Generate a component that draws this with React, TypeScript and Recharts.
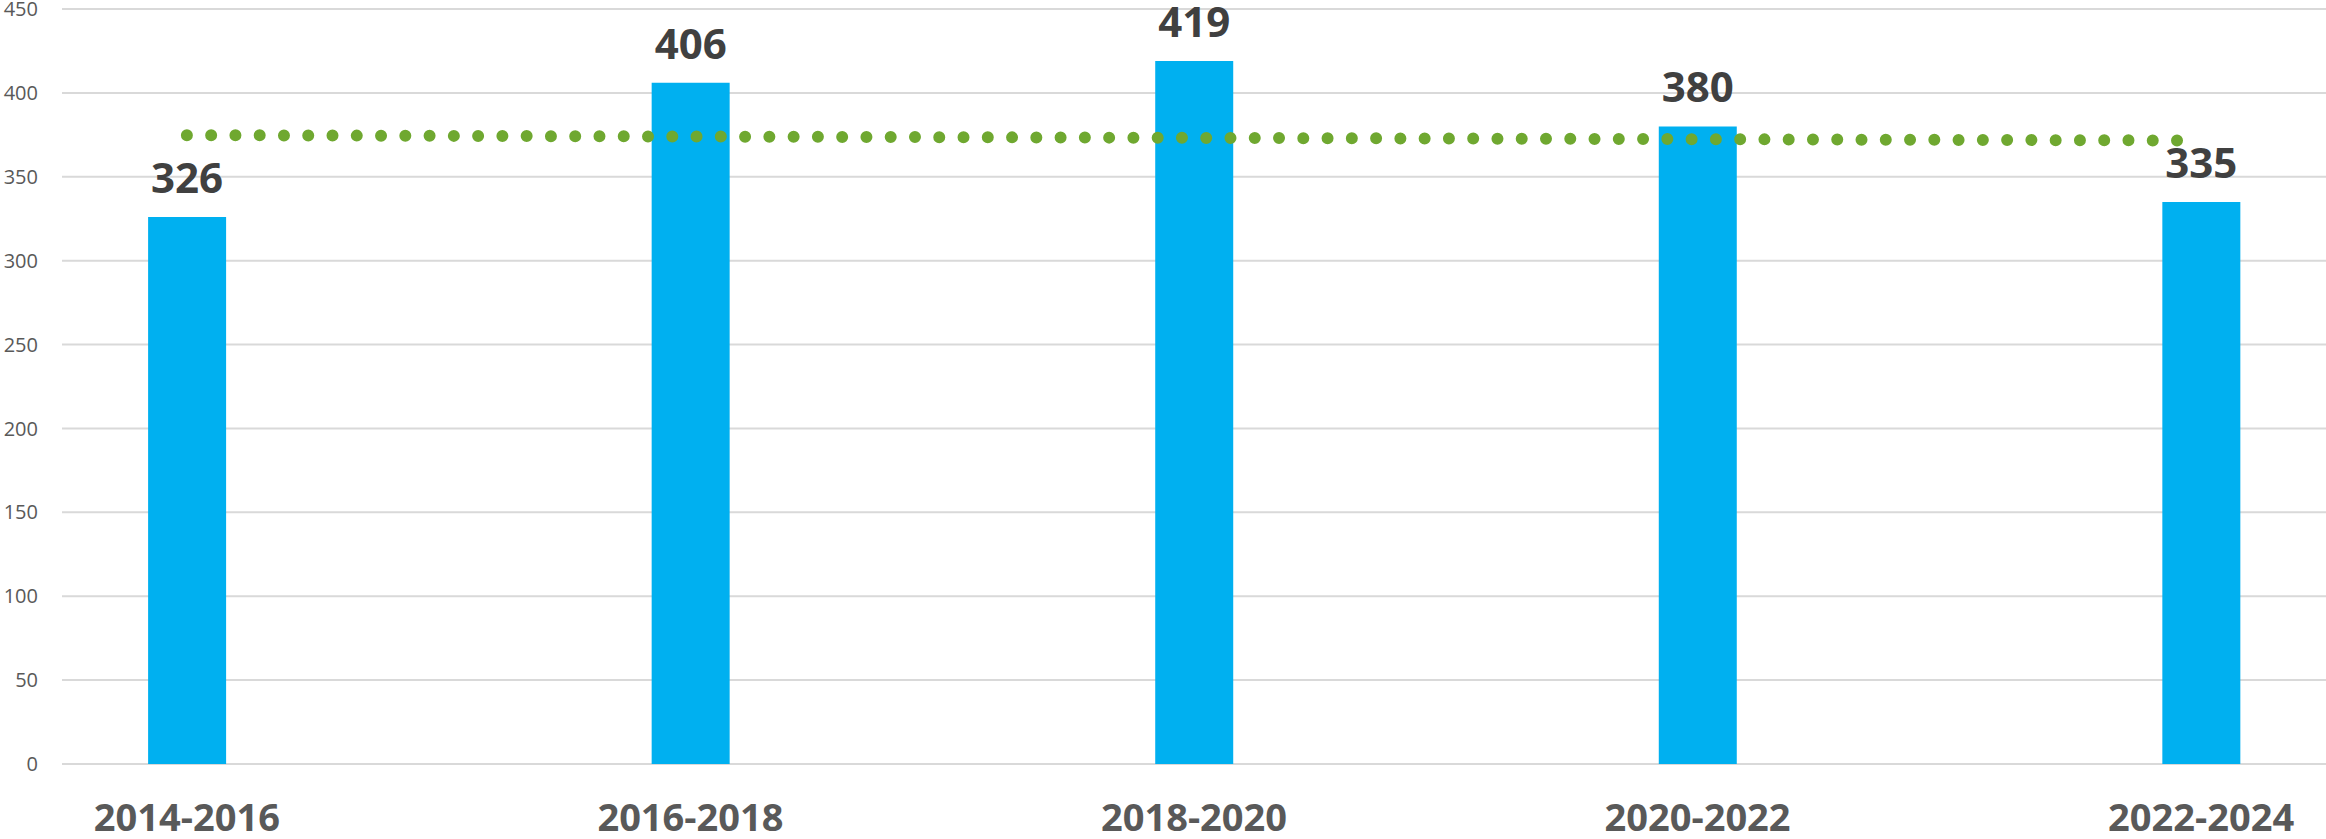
import React from "react";
import {
  ComposedChart,
  Bar,
  Line,
  XAxis,
  YAxis,
  CartesianGrid,
  LabelList,
} from "recharts";

// periods on the horizontal axis
const categories = ["2014-2016", "2016-2018", "2018-2020", "2020-2022", "2022-2024"];
// bar values
const counts = [326, 406, 419, 380, 335];
// dotted trend line
const trend = [374.8, 374.0, 373.2, 372.4, 371.6];
const yTicks = [0, 50, 100, 150, 200, 250, 300, 350, 400, 450];

const data = categories.map((label, i) => ({
  pos: i,
  label,
  count: counts[i],
  trend: trend[i],
}));

const FONT = "'Open Sans', 'Noto Sans', sans-serif";

export default function App() {
  return (
    <div style={{ position: "absolute", left: 0, top: 0, background: "#fff", fontFamily: FONT }}>
      <ComposedChart
        width={2326}
        height={839}
        data={data}
        margin={{ top: 9, right: 0, bottom: 0, left: 0 }}
      >
        <CartesianGrid vertical={false} stroke="#D9D9D9" strokeWidth={2} />
        <XAxis
          type="number"
          dataKey="pos"
          domain={[-0.248, 4.248]}
          ticks={[0, 1, 2, 3, 4]}
          interval={0}
          tickFormatter={(v: number) => categories[v]}
          axisLine={false}
          tickLine={false}
          tickSize={0}
          tickMargin={40}
          height={75}
          tick={{ fill: "#595959", fontSize: 38, fontWeight: 700, fontFamily: FONT }}
        />
        <YAxis
          domain={[0, 450]}
          ticks={yTicks}
          interval={0}
          axisLine={false}
          tickLine={false}
          tickSize={0}
          tickMargin={24}
          width={62}
          tick={{ fill: "#595959", fontSize: 20, fontFamily: FONT }}
        />
        <Bar dataKey="count" fill="#00B0F0" barSize={78} isAnimationActive={false}>
          <LabelList
            dataKey="count"
            position="top"
            offset={24}
            fill="#404040"
            fontSize={42}
            fontWeight={700}
            fontFamily={FONT}
          />
        </Bar>
        <Line
          type="linear"
          dataKey="trend"
          stroke="#6FA830"
          strokeWidth={12}
          strokeLinecap="round"
          strokeDasharray="0 24.27"
          dot={false}
          activeDot={false}
          isAnimationActive={false}
        />
      </ComposedChart>
    </div>
  );
}
